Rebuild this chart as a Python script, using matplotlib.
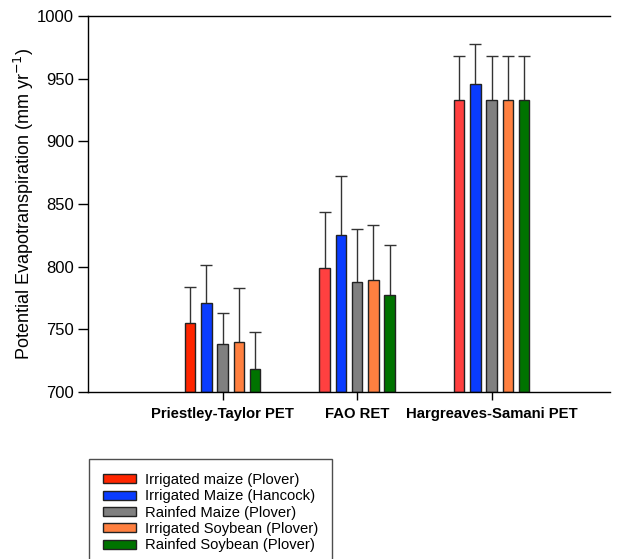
import matplotlib
matplotlib.use("Agg")
import matplotlib.pyplot as plt
import numpy as np
from matplotlib.patches import Patch

plt.rcParams['font.family'] = ['Liberation Sans', 'DejaVu Sans']

methods = ["Priestley-Taylor PET", "FAO RET", "Hargreaves-Samani PET"]
series = ["Irrigated maize (Plover)", "Irrigated Maize (Hancock)",
          "Rainfed Maize (Plover)", "Irrigated Soybean (Plover)",
          "Rainfed Soybean (Plover)"]

# mean PET per method (rows follow `series`)
irr_maize_plover = [755, 799, 933]
irr_maize_hancock = [771, 825, 946]
rf_maize_plover = [738, 788, 933]
irr_soy_plover = [740, 789, 933]
rf_soy_plover = [718, 777, 933]

# upper end of the error bar
irr_maize_plover_hi = [784, 844, 968]
irr_maize_hancock_hi = [801, 872, 978]
rf_maize_plover_hi = [763, 830, 968]
irr_soy_plover_hi = [783, 833, 968]
rf_soy_plover_hi = [748, 817, 968]

means = [irr_maize_plover, irr_maize_hancock, rf_maize_plover, irr_soy_plover, rf_soy_plover]
highs = [irr_maize_plover_hi, irr_maize_hancock_hi, rf_maize_plover_hi, irr_soy_plover_hi, rf_soy_plover_hi]

colors = ["#ff4040", "#0a3cff", "#808080", "#ff8040", "#007300"]
first_red = "#ff2600"

W, H = 618, 559
fig = plt.figure(figsize=(W / 100, H / 100), dpi=100)
ax = fig.add_axes([88 / W, 1 - 392 / H, (610 - 88) / W, (392 - 16) / H])

x = np.arange(len(methods))
step = 0.121
width = 0.078
for i, (m, hi) in enumerate(zip(means, highs)):
    pos = x + (i - 2) * step
    m = np.array(m)
    hi = np.array(hi)
    cols = [colors[i]] * len(m)
    if i == 0:
        cols[0] = first_red
    ax.bar(pos, m - 700, width=width, bottom=700, color=cols,
           edgecolor="#222222", linewidth=1.0, zorder=2)
    eb = ax.errorbar(pos, m, yerr=[np.zeros_like(m), hi - m], fmt="none",
                     ecolor="#333333", elinewidth=1.0, capsize=4.5, capthick=1.0, zorder=1)
    # keep only the upper cap
    eb[1][0].set_visible(False)

ax.set_xlim(-1.0, 2.88)
ax.set_ylim(700, 1000)
ax.set_yticks(np.arange(700, 1001, 50))
ax.set_xticks(x)
ax.set_xticklabels(methods, fontweight="bold", fontsize=10.7)
ax.tick_params(axis="y", labelsize=12, direction="out", length=7, width=1, pad=3)
ax.tick_params(axis="x", direction="out", length=6, width=1, pad=5)
ax.spines["right"].set_visible(False)
for s in ["left", "top", "bottom"]:
    ax.spines[s].set_linewidth(1.0)
ax.set_ylabel("Potential Evapotranspiration (mm yr$^{-1}$)", fontsize=13, labelpad=1)

handles = [Patch(facecolor=c, edgecolor="#222222", linewidth=1.0)
           for c in [first_red] + colors[1:]]
leg = fig.legend(handles, series, loc="upper left",
                 bbox_to_anchor=(89 / W, 1 - 459 / H),
                 frameon=True, fancybox=False, edgecolor="#222222",
                 fontsize=10.6, handlelength=2.25, handleheight=0.55,
                 labelspacing=0.16, borderpad=0.95, handletextpad=0.6,
                 borderaxespad=0)
leg.get_frame().set_linewidth(1.0)

fig.savefig("out.png", dpi=100)
